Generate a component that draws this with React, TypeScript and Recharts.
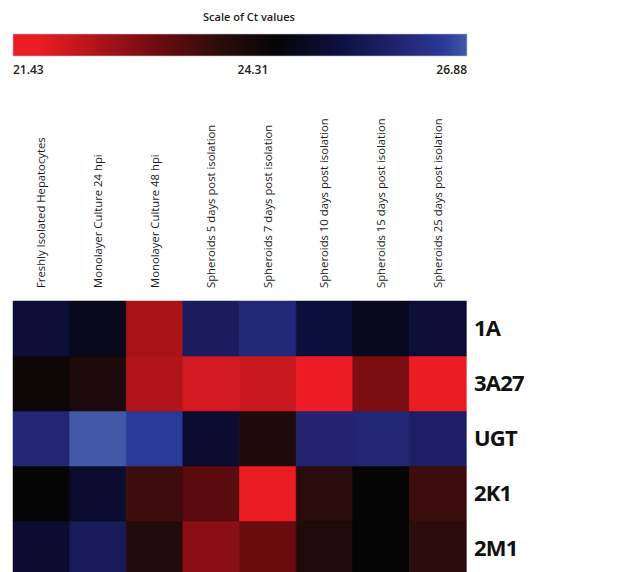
import { BarChart, Bar, XAxis, YAxis, Cell } from "recharts"

const samples = [
  "Freshly Isolated Hepatocytes",
  "Monolayer Culture 24 hpi",
  "Monolayer Culture 48 hpi",
  "Spheroids 5 days post isolation",
  "Spheroids 7 days post isolation",
  "Spheroids 10 days post isolation",
  "Spheroids 15 days post isolation",
  "Spheroids 25 days post isolation",
]

// stacked bottom -> top
const genes = ["2M1", "2K1", "UGT", "3A27", "1A"]

const ct1A = [25.25, 24.86, 22.52, 25.79, 26.17, 25.3, 24.92, 25.25]
const ct3A27 = [24.43, 24.16, 22.41, 22.03, 22.14, 21.43, 23.01, 21.59]
const ctUGT = [26.12, 26.88, 26.61, 25.14, 24.16, 26.06, 26.12, 25.9]
const ct2K1 = [24.59, 25.14, 23.72, 23.39, 21.54, 23.94, 24.59, 23.72]
const ct2M1 = [25.14, 25.74, 24.1, 22.85, 23.23, 24.1, 24.59, 23.94]

const ctByGene: any = { "1A": ct1A, "3A27": ct3A27, UGT: ctUGT, "2K1": ct2K1, "2M1": ct2M1 }

const scaleMin = 21.43
const scaleMid = 24.31
const scaleMax = 26.88
const scaleTicks = [scaleMin, scaleMid, scaleMax]

const stops: [number, string][] = [
  [0, "#ed1c24"],
  [0.06, "#ea1c24"],
  [0.32, "#6e0b0f"],
  [0.46, "#2a0c0c"],
  [0.58, "#050505"],
  [0.72, "#0d0f40"],
  [0.85, "#222470"],
  [0.95, "#2b3a98"],
  [1, "#4258a8"],
]

function hex(c: string) {
  return [1, 3, 5].map(i => parseInt(c.slice(i, i + 2), 16))
}

function ctColor(v: number) {
  const f = Math.max(0, Math.min(1, (v - scaleMin) / (scaleMax - scaleMin)))
  for (let i = 1; i < stops.length; i++) {
    const [f1, c1] = stops[i]
    const [f0, c0] = stops[i - 1]
    if (f <= f1) {
      const t = (f - f0) / (f1 - f0 || 1)
      const a = hex(c0)
      const b = hex(c1)
      const m = a.map((x, k) => Math.round(x + (b[k] - x) * t))
      return `rgb(${m[0]},${m[1]},${m[2]})`
    }
  }
  return stops[stops.length - 1][1]
}

const rows = samples.map((s, i) => {
  const r: any = { sample: s, idx: i }
  genes.forEach(g => { r[g] = 1 })
  return r
})

const scaleRow = [{ name: "scale", range: [scaleMin, scaleMax] }]

const font = "'Open Sans', 'DejaVu Sans', sans-serif"

function SampleTick(props: any) {
  const { x, y, payload } = props
  return (
    <text
      transform={`translate(${x + 4},${y - 5}) rotate(-90)`}
      textAnchor="start"
      fontSize={11.3}
      fontFamily={font}
      fill="#1a1a1a"
    >
      {payload.value}
    </text>
  )
}

function ScaleTick(props: any) {
  const { x, y, payload, index } = props
  const anchor = index === 0 ? "start" : index === 2 ? "end" : "middle"
  return (
    <text x={x} y={y + 10} textAnchor={anchor} fontSize={12} fontWeight={600} fontFamily={font} fill="#222">
      {payload.value.toFixed(2)}
    </text>
  )
}

export default function App() {
  return (
    <div style={{ position: "absolute", left: 0, top: 0, width: 635, height: 572, overflow: "hidden", background: "#fff" }}>
      <div style={{ position: "absolute", left: 13, top: 9, width: 472, textAlign: "center", fontFamily: font, fontSize: 11, fontWeight: 600, color: "#222" }}>
        Scale of Ct values
      </div>

      <div style={{ position: "absolute", left: 0, top: 0 }}>
        <BarChart width={635} height={86} data={scaleRow} layout="vertical" margin={{ top: 34, left: 13, right: 168, bottom: 0 }} barCategoryGap={0}>
          <defs>
            <linearGradient id="ctGrad" x1="0" y1="0" x2="1" y2="0">
              {stops.map(([f, c]) => (
                <stop key={f} offset={f} stopColor={c} />
              ))}
            </linearGradient>
          </defs>
          <XAxis type="number" domain={[scaleMin, scaleMax]} ticks={scaleTicks} axisLine={false} tickLine={false} tick={<ScaleTick />} height={30} interval={0} />
          <YAxis type="category" dataKey="name" hide />
          <Bar dataKey="range" fill="url(#ctGrad)" stroke="#b8bcd0" strokeWidth={0.6} isAnimationActive={false} />
        </BarChart>
      </div>

      <div style={{ position: "absolute", left: 0, top: 0 }}>
        <BarChart width={635} height={580} data={rows} margin={{ top: 101, left: 13, right: 0, bottom: 4 }} barCategoryGap={0} barGap={0}>
          <XAxis dataKey="sample" orientation="top" height={200} axisLine={false} tickLine={false} interval={0} tick={<SampleTick />} />
          <YAxis
            orientation="right"
            type="number"
            domain={[0, 5]}
            ticks={[0.5, 1.5, 2.5, 3.5, 4.5]}
            tickFormatter={(v: number) => genes[Math.floor(v)]}
            axisLine={false}
            tickLine={false}
            width={169}
            tick={{ fontSize: 22, fontWeight: 700, fontFamily: font, fill: "#111", letterSpacing: -0.8 }}
          />
          {genes.map(g => (
            <Bar key={g} dataKey={g} stackId="heat" isAnimationActive={false}>
              {rows.map((r, i) => {
                const c = ctColor(ctByGene[g][i])
                return <Cell key={i} fill={c} stroke={c} strokeWidth={0.5} />
              })}
            </Bar>
          ))}
        </BarChart>
      </div>
    </div>
  )
}
